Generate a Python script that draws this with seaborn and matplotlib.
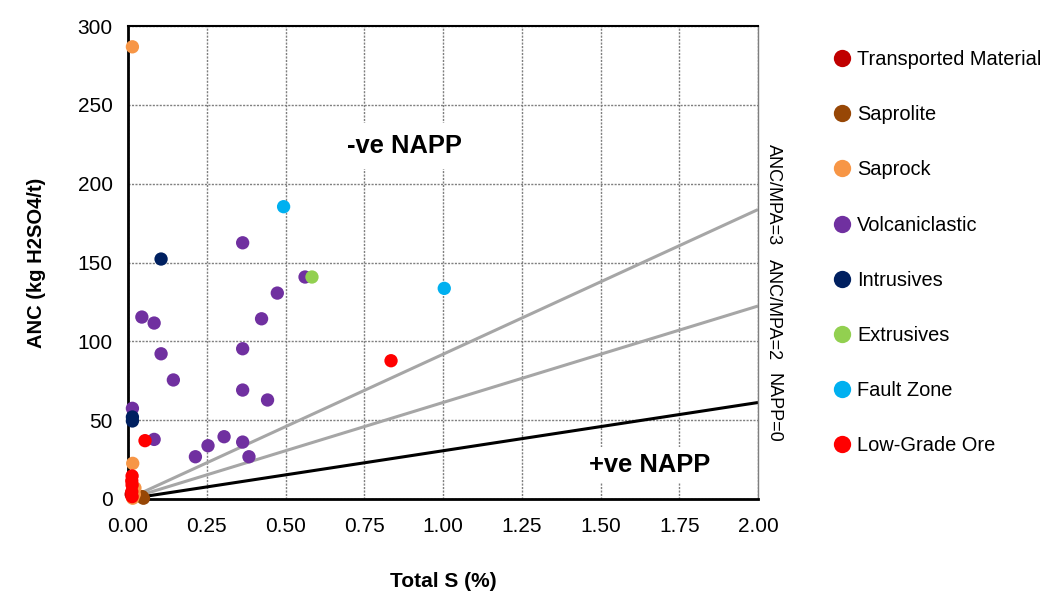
import matplotlib
matplotlib.use("Agg")
import matplotlib.pyplot as plt
import seaborn as sns
import pandas as pd
from matplotlib.ticker import FormatStrFormatter

sns.set_theme(style="white")
plt.rcParams['font.family'] = ['Liberation Sans', 'DejaVu Sans']
for k in ["text.color", "axes.labelcolor", "xtick.color", "ytick.color"]:
    plt.rcParams[k] = "black"

# ---- data ----
categories = ["Transported Material", "Saprolite", "Saprock", "Volcaniclastic",
              "Intrusives", "Extrusives", "Fault Zone", "Low-Grade Ore"]
colors = ["#C00000", "#974706", "#F79646", "#7030A0",
          "#002060", "#92D050", "#00B0F0", "#FF0000"]

transported_s = [0.010]
transported_anc = [3.0]
saprolite_s = [0.045, 0.049]
saprolite_anc = [1.5, 0.5]
saprock_s = [0.014, 0.015, 0.022, 0.020, 0.015]
saprock_anc = [286.8, 22.6, 7.0, 3.0, 0.5]
volc_s = [0.044, 0.083, 0.105, 0.144, 0.364, 0.562, 0.474, 0.424, 0.364,
          0.364, 0.443, 0.014, 0.083, 0.305, 0.364, 0.254, 0.214, 0.384]
volc_anc = [115.4, 111.6, 92.1, 75.5, 162.5, 140.8, 130.6, 114.3, 95.3,
            69.1, 62.8, 57.5, 37.8, 39.5, 36.1, 33.8, 26.8, 26.8]
intr_s = [0.105, 0.014, 0.014]
intr_anc = [152.2, 52.0, 49.5]
extr_s = [0.584]
extr_anc = [140.8]
fault_s = [0.494, 1.004]
fault_anc = [185.4, 133.6]
lgo_s = [0.835, 0.054, 0.013, 0.012, 0.013, 0.012, 0.013]
lgo_anc = [87.7, 37.0, 14.6, 11.5, 8.9, 4.6, 1.5]

# reference lines: ANC = ratio * MPA, MPA = 30.6 * S
line_s = [0.0, 2.0]
mpa_factor = 30.6
ratios = [1, 2, 3]
ratio_labels = ["NAPP=0", "ANC/MPA=2", "ANC/MPA=3"]

x_ticks = [0, 0.25, 0.5, 0.75, 1.0, 1.25, 1.5, 1.75, 2.0]
y_ticks = [0, 50, 100, 150, 200, 250, 300]

series = [(transported_s, transported_anc), (saprolite_s, saprolite_anc),
          (saprock_s, saprock_anc), (volc_s, volc_anc), (intr_s, intr_anc),
          (extr_s, extr_anc), (fault_s, fault_anc), (lgo_s, lgo_anc)]
rows = []
for cat, (xs, ys) in zip(categories, series):
    for xv, yv in zip(xs, ys):
        rows.append({"S": xv, "ANC": yv, "Type": cat})
df = pd.DataFrame(rows)

# ---- figure ----
fig = plt.figure(figsize=(10.41, 5.94), dpi=100)
ax = fig.add_axes([128/1041, 1-499/594, 630/1041, 473/594])

for r in ratios:
    ys = [v * mpa_factor * r for v in line_s]
    ax.plot(line_s, ys, color="black" if r == 1 else "#A6A6A6", lw=2.2,
            zorder=2, solid_capstyle="butt")

sns.scatterplot(data=df, x="S", y="ANC", hue="Type", hue_order=categories,
                palette=dict(zip(categories, colors)), s=92, linewidth=0,
                ax=ax, zorder=3, clip_on=False)

ax.set_xlim(0, 2)
ax.set_ylim(0, 300)
ax.set_xticks(x_ticks)
ax.set_yticks(y_ticks)
ax.xaxis.set_major_formatter(FormatStrFormatter("%.2f"))
ax.grid(True, color="#7F7F7F", linestyle=(0, (1.5, 1.0)), lw=1.0, zorder=0)
ax.set_axisbelow(True)
ax.tick_params(axis="both", labelsize=15, colors="black", length=6, width=1,
               direction="out", pad=5)
ax.tick_params(axis="x", pad=7)
for side in ["left", "bottom"]:
    ax.spines[side].set_color("black")
    ax.spines[side].set_linewidth(2.0)
ax.spines["top"].set_color("black")
ax.spines["top"].set_linewidth(1.5)
ax.spines["right"].set_color("#7F7F7F")
ax.spines["right"].set_linewidth(1.0)
ax.spines["right"].set_linestyle((0, (1.5, 1.0)))

ax.set_xlabel("Total S (%)", fontsize=15, fontweight="bold", labelpad=26)
ax.set_ylabel("ANC (kg H2SO4/t)", fontsize=14.5, fontweight="bold", labelpad=23)

ax.text(0.879, 224, "-ve NAPP", fontsize=18.4, fontweight="bold", ha="center",
        va="center", zorder=4,
        bbox=dict(facecolor="white", edgecolor="none", pad=8))
ax.text(1.657, 21.6, "+ve NAPP", fontsize=18.4, fontweight="bold", ha="center",
        va="center", zorder=4,
        bbox=dict(facecolor="white", edgecolor="none", pad=4))

for lab, yv in zip(ratio_labels, [408, 310, 195]):
    fig.text(773/1041, 1-yv/594, lab, rotation=-90, fontsize=13,
             ha="center", va="center",
             bbox=dict(facecolor="white", edgecolor="none", pad=2))

handles, labels = ax.get_legend_handles_labels()
if ax.legend_:
    ax.legend_.remove()
fig.legend(handles, labels, loc="upper left",
           bbox_to_anchor=(822/1041, 1-42/594), frameon=False, fontsize=14.4,
           labelspacing=1.81, handletextpad=0.15, handlelength=1.2,
           markerscale=1.3, borderaxespad=0)

fig.savefig("out.png", dpi=100)
